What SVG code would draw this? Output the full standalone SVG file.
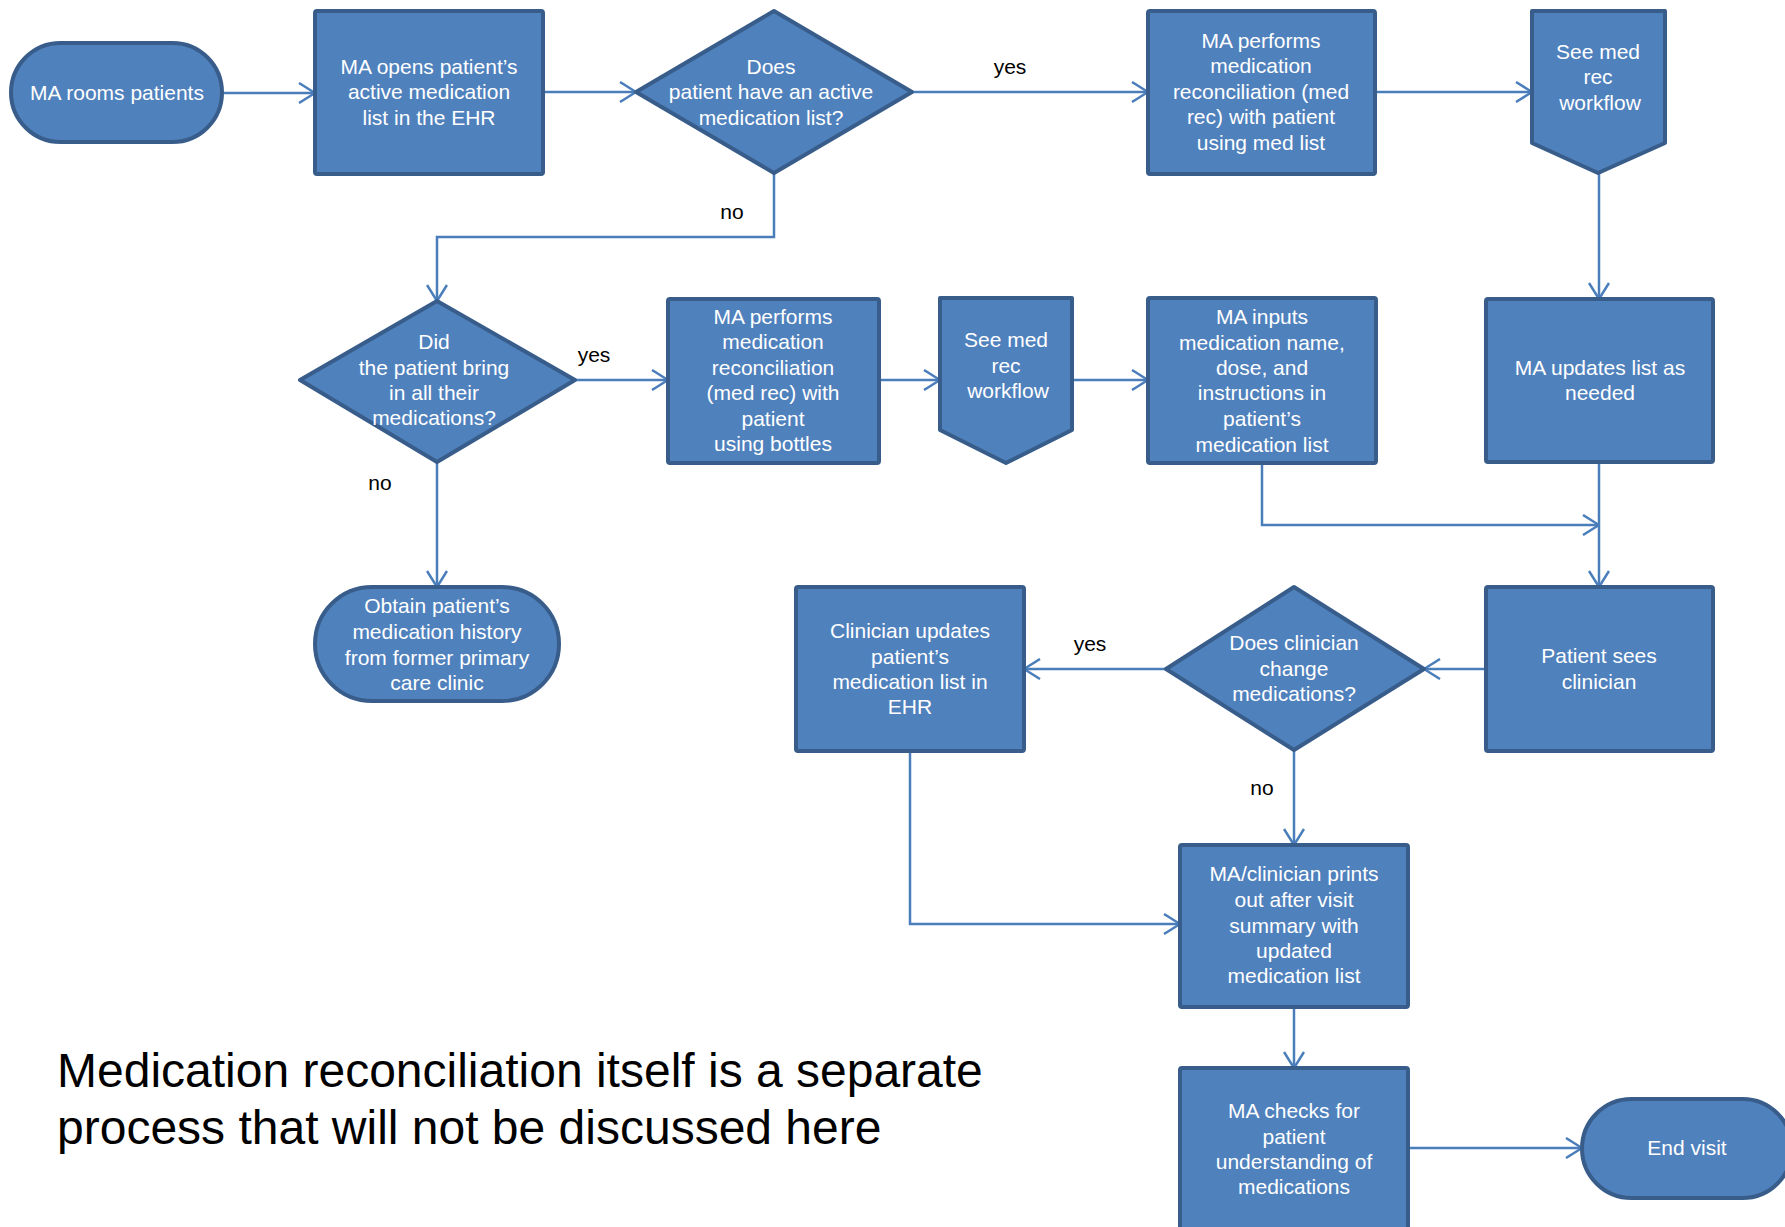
<svg xmlns="http://www.w3.org/2000/svg" width="1785" height="1227" viewBox="0 0 1785 1227">
<defs>
<style>
.n{fill:#4F81BD;stroke:#385D8A;stroke-width:4;stroke-linejoin:round}
.t{fill:#FFFFFF;font-family:"Liberation Sans",Arial,sans-serif;font-size:21px;text-anchor:middle}
.c{fill:none;stroke:#4A7EBB;stroke-width:2.5}
.l{fill:#000000;font-family:"Liberation Sans",Arial,sans-serif;font-size:21px;text-anchor:middle}
.note{fill:#000000;font-family:"Liberation Sans",Arial,sans-serif;font-size:48px}
</style>
<marker id="ah" viewBox="0 0 18 22" refX="17" refY="11" markerWidth="18" markerHeight="22" markerUnits="userSpaceOnUse" orient="auto">
<path d="M1,1 L17,11 L1,21" fill="none" stroke="#4A7EBB" stroke-width="2.5"/>
</marker>
</defs>
<rect width="1785" height="1227" fill="#FFFFFF"/>
<g id="connectors">
<path class="c" d="M222,93 L315,93" marker-end="url(#ah)"/>
<path class="c" d="M543,92 L636,92" marker-end="url(#ah)"/>
<path class="c" d="M912,92 L1148,92" marker-end="url(#ah)"/>
<path class="c" d="M1375,92 L1532,92" marker-end="url(#ah)"/>
<path class="c" d="M1599,173 L1599,299" marker-end="url(#ah)"/>
<path class="c" d="M774,173 L774,237 L437,237 L437,301" marker-end="url(#ah)"/>
<path class="c" d="M575,380 L668,380" marker-end="url(#ah)"/>
<path class="c" d="M437,462 L437,587" marker-end="url(#ah)"/>
<path class="c" d="M879,380 L940,380" marker-end="url(#ah)"/>
<path class="c" d="M1072,380 L1148,380" marker-end="url(#ah)"/>
<path class="c" d="M1262,463 L1262,525 L1599,525" marker-end="url(#ah)"/>
<path class="c" d="M1599,462 L1599,587" marker-end="url(#ah)"/>
<path class="c" d="M1486,669 L1424,669" marker-end="url(#ah)"/>
<path class="c" d="M1166,669 L1024,669" marker-end="url(#ah)"/>
<path class="c" d="M1294,750 L1294,845" marker-end="url(#ah)"/>
<path class="c" d="M910,751 L910,924 L1180,924" marker-end="url(#ah)"/>
<path class="c" d="M1294,1007 L1294,1068" marker-end="url(#ah)"/>
<path class="c" d="M1408,1148 L1582,1148" marker-end="url(#ah)"/>
<text class="l" x="1010" y="74">yes</text>
<text class="l" x="732" y="219">no</text>
<text class="l" x="594" y="362">yes</text>
<text class="l" x="380" y="490">no</text>
<text class="l" x="1090" y="651">yes</text>
<text class="l" x="1262" y="795">no</text>
</g>
<g id="start">
<rect class="n" x="11" y="43" width="211" height="99" rx="49.5"/>
<text class="t" x="117" y="100">MA rooms patients</text>
</g>
<g id="open-list">
<rect class="n" x="315" y="11" width="228" height="163" rx="2"/>
<text class="t" x="429" y="74">MA opens patient’s</text>
<text class="t" x="429" y="99">active medication</text>
<text class="t" x="429" y="125">list in the EHR</text>
</g>
<g id="has-list">
<polygon class="n" points="774,11 912,92 774,173 636,92"/>
<text class="t" x="771" y="74">Does</text>
<text class="t" x="771" y="99">patient have an active</text>
<text class="t" x="771" y="125">medication list?</text>
</g>
<g id="medrec-list">
<rect class="n" x="1148" y="11" width="227" height="163" rx="2"/>
<text class="t" x="1261" y="48">MA performs</text>
<text class="t" x="1261" y="73">medication</text>
<text class="t" x="1261" y="99">reconciliation (med</text>
<text class="t" x="1261" y="124">rec) with patient</text>
<text class="t" x="1261" y="150">using med list</text>
</g>
<g id="see-medrec-1">
<polygon class="n" points="1532,11 1665,11 1665,143 1598,173 1532,143"/>
<text class="t" x="1598" y="59">See med</text>
<text class="t" x="1598" y="84">rec</text>
<text class="t" x="1600" y="110">workflow</text>
</g>
<g id="brought-meds">
<polygon class="n" points="437,301 575,380 437,462 300,380"/>
<text class="t" x="434" y="349">Did</text>
<text class="t" x="434" y="375">the patient bring</text>
<text class="t" x="434" y="400">in all their</text>
<text class="t" x="434" y="425">medications?</text>
</g>
<g id="medrec-bottles">
<rect class="n" x="668" y="299" width="211" height="164" rx="2"/>
<text class="t" x="773" y="324">MA performs</text>
<text class="t" x="773" y="349">medication</text>
<text class="t" x="773" y="375">reconciliation</text>
<text class="t" x="773" y="400">(med rec) with</text>
<text class="t" x="773" y="426">patient</text>
<text class="t" x="773" y="451">using bottles</text>
</g>
<g id="obtain-history">
<rect class="n" x="315" y="587" width="244" height="114" rx="57"/>
<text class="t" x="437" y="613">Obtain patient’s</text>
<text class="t" x="437" y="639">medication history</text>
<text class="t" x="437" y="665">from former primary</text>
<text class="t" x="437" y="690">care clinic</text>
</g>
<g id="see-medrec-2">
<polygon class="n" points="940,298 1072,298 1072,430 1006,463 940,430"/>
<text class="t" x="1006" y="347">See med</text>
<text class="t" x="1006" y="373">rec</text>
<text class="t" x="1008" y="398">workflow</text>
</g>
<g id="inputs-meds">
<rect class="n" x="1148" y="298" width="228" height="165" rx="2"/>
<text class="t" x="1262" y="324">MA inputs</text>
<text class="t" x="1262" y="350">medication name,</text>
<text class="t" x="1262" y="375">dose, and</text>
<text class="t" x="1262" y="400">instructions in</text>
<text class="t" x="1262" y="426">patient’s</text>
<text class="t" x="1262" y="452">medication list</text>
</g>
<g id="updates-list">
<rect class="n" x="1486" y="299" width="227" height="163" rx="2"/>
<text class="t" x="1600" y="375">MA updates list as</text>
<text class="t" x="1600" y="400">needed</text>
</g>
<g id="sees-clinician">
<rect class="n" x="1486" y="587" width="227" height="164" rx="2"/>
<text class="t" x="1599" y="663">Patient sees</text>
<text class="t" x="1599" y="689">clinician</text>
</g>
<g id="changes-meds">
<polygon class="n" points="1294,587 1424,669 1294,750 1166,669"/>
<text class="t" x="1294" y="650">Does clinician</text>
<text class="t" x="1294" y="676">change</text>
<text class="t" x="1294" y="701">medications?</text>
</g>
<g id="clinician-updates">
<rect class="n" x="796" y="587" width="228" height="164" rx="2"/>
<text class="t" x="910" y="638">Clinician updates</text>
<text class="t" x="910" y="664">patient’s</text>
<text class="t" x="910" y="689">medication list in</text>
<text class="t" x="910" y="714">EHR</text>
</g>
<g id="prints-summary">
<rect class="n" x="1180" y="845" width="228" height="162" rx="2"/>
<text class="t" x="1294" y="881">MA/clinician prints</text>
<text class="t" x="1294" y="907">out after visit</text>
<text class="t" x="1294" y="933">summary with</text>
<text class="t" x="1294" y="958">updated</text>
<text class="t" x="1294" y="983">medication list</text>
</g>
<g id="checks-understanding">
<rect class="n" x="1180" y="1068" width="228" height="180" rx="2"/>
<text class="t" x="1294" y="1118">MA checks for</text>
<text class="t" x="1294" y="1144">patient</text>
<text class="t" x="1294" y="1169">understanding of</text>
<text class="t" x="1294" y="1194">medications</text>
</g>
<g id="end-visit">
<rect class="n" x="1582" y="1099" width="210" height="99" rx="49.5"/>
<text class="t" x="1687" y="1155">End visit</text>
</g>
<g id="note">
<text class="note" x="57" y="1087">Medication reconciliation itself is a separate</text>
<text class="note" x="57" y="1144">process that will not be discussed here</text>
</g>
</svg>
